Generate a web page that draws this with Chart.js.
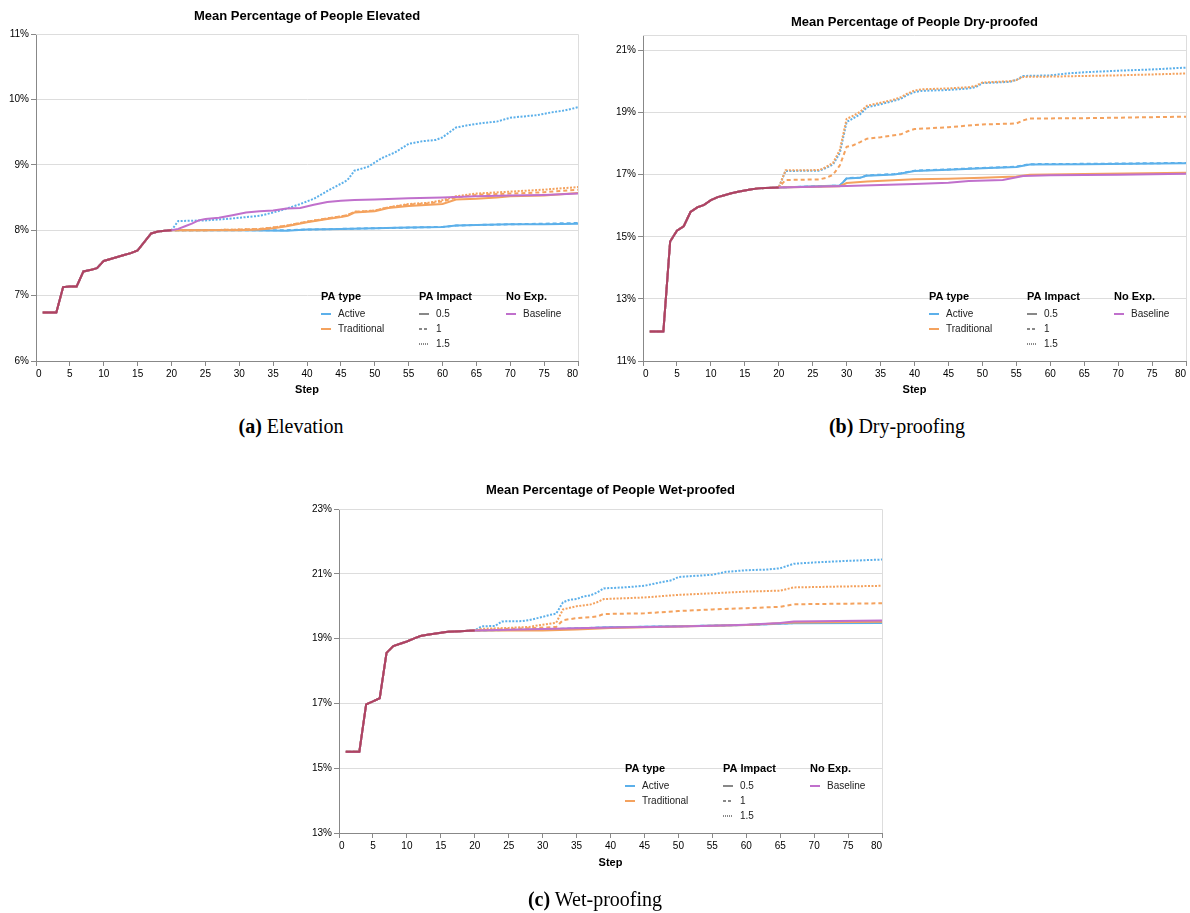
<!DOCTYPE html>
<html>
<head>
<meta charset="utf-8">
<script src="https://cdn.jsdelivr.net/npm/chart.js@4"></script>
<style>
  body { margin: 0; background: #fff; width: 1190px; height: 913px; position: relative; overflow: hidden; }
  .box { position: absolute; }
  .cap { position: absolute; width: 300px; text-align: center; font-family: "Liberation Serif", serif; font-size: 20px; line-height: 24px; color: #000; }
</style>
</head>
<body>
<div class="box" style="left:0;top:0"><canvas id="elev" width="600" height="400"></canvas></div>
<div class="box" style="left:600px;top:0"><canvas id="dry" width="590" height="400"></canvas></div>
<div class="box" style="left:290px;top:470px"><canvas id="wet" width="600" height="420"></canvas></div>
<div class="cap" style="left:141px;top:414px"><b>(a)</b> Elevation</div>
<div class="cap" style="left:747px;top:414px"><b>(b)</b> Dry-proofing</div>
<div class="cap" style="left:445px;top:887px"><b>(c)</b> Wet-proofing</div>

<script>
const FONT = "'Liberation Sans', Arial, sans-serif";
const BLUE = "#5cb0ea";
const ORANGE = "#f4a25e";
const PURPLE = "#c070cc";
const SHARED = "#ad4461";

// [step, percent]; every series starts with the shared part of its panel
const elevShared = [[1,6.74],[2,6.74],[3,6.74],[4,7.13],[5,7.14],[6,7.14],[7,7.37],[8,7.39],[9,7.42],[10,7.53],[11,7.56],[12,7.59],[13,7.62],[14,7.65],[15,7.69],[16,7.82],[17,7.95],[18,7.98],[19,7.99],[20,8.00]];
const elevActive05 = [[25,8.00],[30,8.00],[37,7.99],[40,8.01],[45,8.02],[50,8.03],[55,8.04],[60,8.05],[62,8.07],[65,8.08],[70,8.09],[75,8.09],[80,8.10]];
const elevActive1 = [[25,8.00],[30,8.00],[37,8.00],[40,8.01],[45,8.02],[50,8.03],[55,8.04],[60,8.05],[62,8.07],[65,8.08],[70,8.09],[75,8.10],[80,8.11]];
const elevActive15 = [[21,8.14],[25,8.15],[29,8.18],[31,8.20],[33,8.22],[35,8.27],[37,8.33],[39,8.40],[41,8.48],[43,8.60],[45,8.71],[46,8.77],[47,8.91],[49,8.97],[51,9.10],[53,9.19],[55,9.32],[57,9.36],[59,9.38],[60,9.42],[62,9.57],[64,9.61],[66,9.64],[68,9.66],[70,9.72],[72,9.74],[74,9.76],[76,9.80],[78,9.83],[80,9.88]];
const elevTrad05 = [[25,8.00],[30,8.00],[33,8.01],[35,8.03],[37,8.06],[40,8.12],[43,8.17],[45,8.20],[46,8.22],[47,8.27],[50,8.29],[52,8.34],[55,8.37],[60,8.40],[62,8.47],[65,8.48],[68,8.50],[70,8.52],[75,8.53],[80,8.57]];
const elevTrad1 = [[25,8.00],[30,8.01],[33,8.02],[35,8.04],[37,8.07],[40,8.13],[43,8.18],[45,8.21],[46,8.23],[47,8.28],[50,8.30],[52,8.35],[55,8.39],[58,8.41],[60,8.44],[62,8.50],[65,8.54],[70,8.56],[75,8.58],[80,8.62]];
const elevTrad15 = [[25,8.00],[30,8.01],[33,8.02],[35,8.04],[37,8.07],[40,8.13],[43,8.18],[45,8.21],[46,8.23],[47,8.28],[50,8.30],[52,8.35],[55,8.40],[58,8.42],[60,8.46],[62,8.52],[65,8.56],[70,8.59],[75,8.62],[80,8.66]];
const elevBaseline = [[21,8.02],[22,8.06],[23,8.10],[24,8.15],[25,8.17],[27,8.19],[29,8.23],[31,8.27],[33,8.29],[35,8.30],[37,8.33],[39,8.34],[41,8.39],[43,8.43],[45,8.45],[47,8.46],[50,8.47],[55,8.49],[60,8.50],[65,8.52],[70,8.53],[75,8.54],[80,8.56]];
const elevTicks = [6, 7, 8, 9, 10, 11];

const dryShared = [[1,11.95],[2,11.95],[3,11.95],[4,14.85],[5,15.20],[6,15.34],[7,15.80],[8,15.95],[9,16.03],[10,16.18],[11,16.28],[12,16.34],[13,16.40],[14,16.45],[15,16.49],[16,16.53],[17,16.56],[18,16.57],[19,16.58],[20,16.59]];
const dryActive05 = [[29,16.65],[30,16.88],[32,16.90],[33,16.97],[37,17.01],[38,17.04],[40,17.12],[45,17.16],[50,17.21],[55,17.25],[57,17.33],[65,17.34],[80,17.37]];
const dryActive1 = [[29,16.65],[30,16.89],[32,16.91],[33,16.98],[37,17.02],[38,17.05],[40,17.13],[45,17.17],[50,17.22],[55,17.26],[57,17.34],[65,17.35],[80,17.38]];
const dryActive15 = [[21,17.12],[26,17.13],[27,17.22],[28,17.33],[29,17.70],[30,18.70],[31,18.82],[32,18.95],[33,19.17],[35,19.27],[37,19.38],[38,19.45],[39,19.57],[40,19.66],[41,19.70],[45,19.73],[48,19.78],[49,19.82],[50,19.95],[54,19.99],[55,20.05],[56,20.18],[60,20.20],[63,20.27],[65,20.30],[70,20.35],[75,20.39],[80,20.45]];
const dryTrad05 = [[29,16.63],[30,16.73],[33,16.78],[40,16.85],[45,16.87],[50,16.90],[55,16.94],[57,17.00],[65,17.02],[80,17.06]];
const dryTrad1 = [[21,16.83],[26,16.85],[27,16.90],[28,17.00],[29,17.30],[30,17.90],[31,17.95],[32,18.05],[33,18.16],[35,18.21],[37,18.27],[38,18.30],[39,18.40],[40,18.47],[45,18.53],[50,18.62],[55,18.65],[56,18.75],[57,18.81],[65,18.82],[80,18.87]];
const dryTrad15 = [[21,17.14],[26,17.15],[27,17.25],[28,17.38],[29,17.80],[30,18.80],[31,18.90],[32,19.03],[33,19.22],[35,19.32],[37,19.42],[38,19.50],[39,19.62],[40,19.71],[41,19.75],[45,19.78],[48,19.82],[49,19.86],[50,19.97],[54,20.01],[55,20.05],[56,20.15],[60,20.16],[65,20.18],[70,20.20],[75,20.23],[80,20.26]];
const dryBaseline = [[25,16.61],[30,16.64],[35,16.67],[40,16.70],[45,16.74],[48,16.80],[53,16.83],[56,16.96],[60,16.98],[70,17.00],[80,17.03]];
const dryTicks = [11, 13, 15, 17, 19, 21];

const wetShared = [[1,15.51],[2,15.51],[3,15.51],[4,16.97],[5,17.06],[6,17.16],[7,18.56],[8,18.77],[9,18.84],[10,18.91],[11,19.00],[12,19.08],[13,19.12],[14,19.15],[15,19.18],[16,19.21],[17,19.22],[18,19.23],[19,19.24],[20,19.25]];
const wetActive05 = [[30,19.28],[35,19.31],[40,19.35],[50,19.38],[60,19.42],[67,19.47],[80,19.48]];
const wetActive1 = [[30,19.28],[35,19.32],[40,19.35],[50,19.38],[60,19.42],[67,19.48],[80,19.49]];
const wetActive15 = [[21,19.38],[23,19.39],[24,19.53],[27,19.54],[28,19.57],[29,19.62],[30,19.67],[31,19.73],[32,19.77],[33,20.12],[34,20.20],[35,20.22],[36,20.30],[37,20.33],[38,20.42],[39,20.55],[42,20.58],[45,20.63],[47,20.72],[49,20.80],[50,20.90],[52,20.93],[55,20.97],[57,21.06],[60,21.11],[63,21.13],[65,21.17],[67,21.31],[70,21.35],[75,21.40],[80,21.44]];
const wetTrad05 = [[30,19.25],[35,19.28],[40,19.33],[50,19.37],[60,19.42],[67,19.50],[80,19.52]];
const wetTrad1 = [[25,19.30],[28,19.32],[32,19.36],[33,19.57],[35,19.63],[38,19.68],[39,19.76],[45,19.78],[50,19.85],[55,19.90],[60,19.94],[65,19.98],[67,20.06],[80,20.09]];
const wetTrad15 = [[21,19.30],[25,19.33],[28,19.36],[30,19.43],[32,19.49],[33,19.90],[35,20.00],[37,20.05],[38,20.12],[39,20.22],[45,20.27],[50,20.35],[55,20.40],[60,20.45],[65,20.48],[67,20.58],[80,20.63]];
const wetBaseline = [[25,19.27],[30,19.30],[35,19.32],[40,19.34],[50,19.37],[55,19.40],[60,19.43],[65,19.48],[67,19.53],[80,19.56]];
const wetTicks = [13, 15, 17, 19, 21, 23];

const DASH = { "0.5": [], "1": [4, 3], "1.5": [2, 1.5] };

function line(pts, color, dash) {
  return {
    data: pts.map(p => ({ x: p[0], y: p[1] })),
    borderColor: color,
    borderWidth: 2,
    borderDash: dash,
    pointRadius: 0,
    tension: 0,
    fill: false
  };
}

// custom legend in three columns, frame and title
function decoPlugin(title, titleY) {
  return {
    id: "deco",
    beforeDatasetsDraw(chart) {
      const { ctx, chartArea: a } = chart;
      ctx.save();
      ctx.strokeStyle = "#ddd";
      ctx.lineWidth = 1;
      ctx.beginPath();
      ctx.moveTo(a.left, a.top + 0.5);
      ctx.lineTo(a.right + 0.5, a.top + 0.5);
      ctx.lineTo(a.right + 0.5, a.bottom);
      ctx.stroke();
      ctx.restore();
    },
    afterDraw(chart) {
      const { ctx, chartArea: a } = chart;
      ctx.save();
      ctx.fillStyle = "#000";
      ctx.textAlign = "center";
      ctx.textBaseline = "middle";
      ctx.font = "bold 13px " + FONT;
      ctx.fillText(title, (a.left + a.right) / 2, titleY);

      const cols = [
        { x: a.right - 257, head: "PA type", items: [["Active", BLUE, []], ["Traditional", ORANGE, []]] },
        { x: a.right - 159, head: "PA Impact", items: [["0.5", "#888", []], ["1", "#888", [3, 2]], ["1.5", "#888", [1, 1]]] },
        { x: a.right - 72, head: "No Exp.", items: [["Baseline", PURPLE, []]] }
      ];
      ctx.textAlign = "left";
      cols.forEach(c => {
        ctx.font = "bold 11px " + FONT;
        ctx.fillStyle = "#000";
        ctx.fillText(c.head, c.x, a.bottom - 64);
        c.items.forEach((it, i) => {
          const y = a.bottom - 47 + i * 15;
          ctx.strokeStyle = it[1];
          ctx.lineWidth = 2;
          ctx.setLineDash(it[2]);
          ctx.beginPath();
          ctx.moveTo(c.x, y);
          ctx.lineTo(c.x + 10, y);
          ctx.stroke();
          ctx.setLineDash([]);
          ctx.font = "10px " + FONT;
          ctx.fillStyle = "#222";
          ctx.fillText(it[0], c.x + 17, y);
        });
      });
      ctx.restore();
    }
  };
}

function drawPanel(id, title, s, yMin, yMax, yTicks, g) {
  const full = tail => s.shared.concat(tail);
  const datasets = [
    line(s.shared, SHARED, []),
    line(full(s.baseline), PURPLE, []),
    line(full(s.trad05), ORANGE, DASH["0.5"]),
    line(full(s.trad1), ORANGE, DASH["1"]),
    line(full(s.trad15), ORANGE, DASH["1.5"]),
    line(full(s.active05), BLUE, DASH["0.5"]),
    line(full(s.active1), BLUE, DASH["1"]),
    line(full(s.active15), BLUE, DASH["1.5"])
  ];

  new Chart(document.getElementById(id), {
    type: "line",
    data: { datasets },
    options: {
      responsive: false,
      animation: false,
      layout: { padding: { top: g.top, right: g.right, left: 0, bottom: 0 } },
      plugins: { legend: { display: false }, tooltip: { enabled: false } },
      scales: {
        x: {
          type: "linear",
          min: 0,
          max: 80,
          ticks: { stepSize: 5, autoSkip: false, maxRotation: 0, align: "inner", padding: 2, color: "#000", font: { family: FONT, size: 10 } },
          grid: { drawOnChartArea: false, tickLength: 5, color: "#888" },
          border: { color: "#888" },
          title: { display: true, text: "Step", color: "#000", font: { family: FONT, size: 11, weight: "bold" }, padding: { top: 0, bottom: g.stepPad } },
          afterFit: sc => { sc.height = g.axisH; }
        },
        y: {
          min: yMin,
          max: yMax,
          afterBuildTicks: sc => { sc.ticks = yTicks.map(v => ({ value: v })); },
          ticks: { callback: v => v + "%", padding: 2, color: "#000", font: { family: FONT, size: 10 } },
          grid: { color: "#ddd", tickColor: "#888", tickLength: 5 },
          border: { color: "#888" },
          afterFit: sc => { sc.width = g.axisW; }
        }
      }
    },
    plugins: [decoPlugin(title, g.titleY)]
  });
}

drawPanel("elev", "Mean Percentage of People Elevated",
  { shared: elevShared, active05: elevActive05, active1: elevActive1, active15: elevActive15,
    trad05: elevTrad05, trad1: elevTrad1, trad15: elevTrad15, baseline: elevBaseline },
  6, 11, elevTicks,
  { top: 34, right: 22, axisW: 36, axisH: 39, stepPad: 3.4, titleY: 16 });

drawPanel("dry", "Mean Percentage of People Dry-proofed",
  { shared: dryShared, active05: dryActive05, active1: dryActive1, active15: dryActive15,
    trad05: dryTrad05, trad1: dryTrad1, trad15: dryTrad15, baseline: dryBaseline },
  11, 21.5, dryTicks,
  { top: 35, right: 4, axisW: 43, axisH: 39, stepPad: 3.4, titleY: 22 });

drawPanel("wet", "Mean Percentage of People Wet-proofed",
  { shared: wetShared, active05: wetActive05, active1: wetActive1, active15: wetActive15,
    trad05: wetTrad05, trad1: wetTrad1, trad15: wetTrad15, baseline: wetBaseline },
  13, 23, wetTicks,
  { top: 39, right: 8, axisW: 49, axisH: 57, stepPad: 20.7, titleY: 20 });
</script>
</body>
</html>
